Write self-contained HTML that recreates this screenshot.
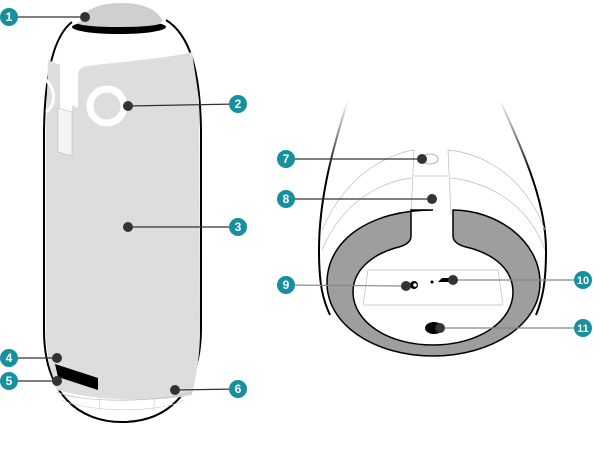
<!DOCTYPE html>
<html><head><meta charset="utf-8"><style>
html,body{margin:0;padding:0;background:#fff}
svg{display:block}
text{font-family:"Liberation Sans",sans-serif;font-size:12px;fill:#fff;text-anchor:middle;font-weight:bold}
</style></head><body>
<svg width="601" height="461" viewBox="0 0 601 461" xmlns="http://www.w3.org/2000/svg">
<defs>
<linearGradient id="fade" gradientUnits="userSpaceOnUse" x1="0" y1="100" x2="0" y2="175">
<stop offset="0" stop-color="#fff"/><stop offset="1" stop-color="#000"/>
</linearGradient>
</defs>
<!-- LEFT DEVICE -->
<path d="M72,22 C55,35 45,70 44,130 L44,330 C44,395 80,422 122,422 C165,422 200,395 201,330 L201,130 C200,70 190,35 166,20" fill="#fff" stroke="#000" stroke-width="2"/>
<!-- grey body -->
<path d="M78,78 C78,70 80,68 86,66 C120,62 170,58 192,52 L199,100 L200,330 C200,360 195,380 192,395 C160,402 100,402 57,390 C50,370 46,350 46,330 L46,130 L48,60 L60,65 L60,150 L72,155 L72,105 L78,108 Z" fill="#dcdddc"/>
<path d="M58,108 L72,112 L72,156 L58,152 Z" fill="#f4f4f4" stroke="#bbb" stroke-width="0.6"/>
<path d="M46,80 C56,90 56,105 46,112" fill="none" stroke="#fff" stroke-width="3"/>
<!-- bottom base lines -->
<path d="M57,392 C80,403 160,403 192,392" fill="none" stroke="#bbb" stroke-width="0.7"/>
<path d="M62,400 C90,413 160,413 185,400" fill="none" stroke="#ccc" stroke-width="0.6"/>
<path d="M99,397 L100,410 M155,398 L153,411" stroke="#ccc" stroke-width="0.6"/>
<!-- black bar -->
<path d="M55,364 L98,378 L98,390 L58,377 Z" fill="#000"/>
<!-- dome -->
<path d="M80,22 C84,9 100,3 121,3 C142,3 158,9 163,22 Z" fill="#cfcfcf"/>
<ellipse cx="119" cy="27" rx="47" ry="7" fill="#000"/>
<ellipse cx="119" cy="23" rx="42" ry="4" fill="#cfcfcf"/>
<!-- ring 2 -->
<circle cx="107" cy="106" r="17" fill="#dcdddc" stroke="#fff" stroke-width="7"/>
<!-- RIGHT DEVICE -->
<path d="M348,100 C332,150 319,200 319,250 C319,285 323,300 330,315" fill="none" stroke="url(#fade)" stroke-width="2"/>
<path d="M500,100 C522,150 546,200 546,250 C546,285 542,300 536,315" fill="none" stroke="url(#fade)" stroke-width="2"/>
<path d="M322,230 C350,165 400,152 414,150 M448,150 C470,152 520,165 545,230" fill="none" stroke="#bbb" stroke-width="0.7"/>
<path d="M322,250 C345,195 390,180 412,178 M450,178 C475,180 525,195 545,250" fill="none" stroke="#bbb" stroke-width="0.7"/>
<path d="M414,150 L411,215 M448,150 L451,215 M414,176 L448,176" stroke="#bbb" stroke-width="0.7"/>
<path d="M433,210 C370,210 327,240 327,283 C327,325 375,356 433,356 C491,356 540,325 540,283 C540,240 496,210 453,210 L453,236 C453,242 460,246 470,248 C495,255 513,270 513,292 C513,322 478,345 433,345 C388,345 353,322 353,292 C353,270 372,255 395,248 C405,246 411,242 411,236 L411,210 Z" fill="#9e9e9e" stroke="#000" stroke-width="1.5" fill-rule="evenodd"/>
<path d="M368,270 L498,270 L503,305 M368,270 L363,305 M364,305 L502,305" fill="none" stroke="#bbb" stroke-width="0.7"/>
<circle cx="414" cy="285" r="4" fill="#000"/><circle cx="415" cy="285" r="1.8" fill="#fff"/>
<circle cx="432" cy="282" r="1.5" fill="#000"/>
<path d="M438,282 L442,278 L452,278 L452,282 Z" fill="#000"/>
<ellipse cx="434" cy="328" rx="9" ry="6" fill="#000"/>
<ellipse cx="430" cy="159" rx="8" ry="5" fill="none" stroke="#999" stroke-width="0.8"/>
<!-- leader lines -->
<g stroke="#333" stroke-width="1.2">
<line x1="9" y1="17" x2="85" y2="17"/>
<line x1="128" y1="106" x2="238" y2="104"/>
<line x1="128" y1="227" x2="238" y2="227"/>
<line x1="9" y1="358" x2="57" y2="358"/>
<line x1="9" y1="381" x2="57" y2="381"/>
<line x1="175" y1="390" x2="238" y2="389"/>
<line x1="286" y1="159" x2="422" y2="159"/>
<line x1="286" y1="199" x2="432" y2="199"/>
</g>
<g stroke="#888" stroke-width="1.2">
<line x1="286" y1="285" x2="406" y2="286"/>
<line x1="453" y1="280" x2="583" y2="280"/>
<line x1="440" y1="328" x2="583" y2="328"/>
</g>
<g fill="#333">
<circle cx="85" cy="17" r="5"/><circle cx="128" cy="106" r="5"/><circle cx="128" cy="227" r="5"/>
<circle cx="57" cy="358" r="5"/><circle cx="57" cy="381" r="5"/><circle cx="175" cy="390" r="5"/>
<circle cx="422" cy="159" r="5"/><circle cx="432" cy="199" r="5"/><circle cx="406" cy="286" r="5"/>
<circle cx="453" cy="280" r="5"/><circle cx="440" cy="328" r="5"/>
</g>
<g fill="#16909f">
<circle cx="9" cy="17" r="9"/><circle cx="238" cy="104" r="9"/><circle cx="238" cy="227" r="9"/>
<circle cx="9" cy="358" r="9"/><circle cx="9" cy="381" r="9"/><circle cx="238" cy="389" r="9"/>
<circle cx="286" cy="159" r="9"/><circle cx="286" cy="199" r="9"/><circle cx="286" cy="285" r="9"/>
<circle cx="583" cy="280" r="9"/><circle cx="583" cy="328" r="9"/>
</g>
<text x="9" y="21">1</text><text x="238" y="108">2</text><text x="238" y="231">3</text>
<text x="9" y="362">4</text><text x="9" y="385">5</text><text x="238" y="393">6</text>
<text x="286" y="163">7</text><text x="286" y="203">8</text><text x="286" y="289">9</text>
<text x="583" y="284" style="font-size:11px">10</text><text x="583" y="332" style="font-size:11px">11</text>
</svg>
</body></html>
